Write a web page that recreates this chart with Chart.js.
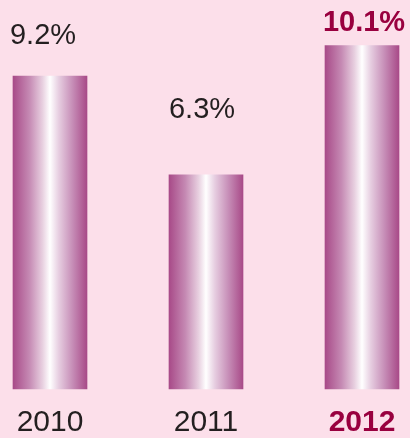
<!DOCTYPE html>
<html lang="en">
<head>
    <meta charset="UTF-8">
    <title>Growth 2010-2012</title>
    <script src="https://cdn.jsdelivr.net/npm/chart.js"></script>
    <style>
        html, body { margin: 0; padding: 0; background: #fcdfea; }
        #wrap { width: 410px; height: 438px; position: relative; }
    </style>
</head>
<body>

<div id="wrap">
    <canvas id="growthChart"></canvas>
</div>

<script>
    const years = ['2010', '2011', '2012'];
    const growth = [9.2, 6.3, 10.1];
    const valueLabels = ['9.2%', '6.3%', '10.1%'];

    const highlightIndex = 2;
    const darkText = '#231f20';
    const accent = '#99003f';
    const fontFamily = '"Liberation Sans", Arial, sans-serif';

    // label nudges relative to bar top (dx, dy to baseline)
    const labelOffsets = [[-7, -32], [-4, -57], [2, -15]];

    // bars are shaded like a cylinder: purple edges, white middle
    const barShade = {
        id: 'barShade',
        beforeDatasetsDraw(chart) {
            const ctx = chart.ctx;
            chart.getDatasetMeta(0).data.forEach(bar => {
                const left = bar.x - bar.width / 2;
                const right = bar.x + bar.width / 2;
                const g = ctx.createLinearGradient(left, 0, right, 0);
                g.addColorStop(0, '#a84a88');
                g.addColorStop(0.22, '#c589b3');
                g.addColorStop(0.4, '#e8d0e0');
                g.addColorStop(0.5, '#ffffff');
                g.addColorStop(0.62, '#e6cde0');
                g.addColorStop(0.8, '#c78fb8');
                g.addColorStop(1, '#a84a88');
                bar.options = Object.assign({}, bar.options, { backgroundColor: g });
            });
        }
    };

    const valueTags = {
        id: 'valueTags',
        afterDatasetsDraw(chart) {
            const ctx = chart.ctx;
            ctx.save();
            ctx.textAlign = 'center';
            ctx.textBaseline = 'alphabetic';
            chart.getDatasetMeta(0).data.forEach((bar, i) => {
                const bold = i === highlightIndex;
                ctx.font = (bold ? 'bold ' : '') + '29px ' + fontFamily;
                ctx.fillStyle = bold ? accent : darkText;
                ctx.fillText(valueLabels[i], bar.x + labelOffsets[i][0], bar.y + labelOffsets[i][1]);
            });
            ctx.restore();
        }
    };

    new Chart(document.getElementById('growthChart'), {
        type: 'bar',
        data: {
            labels: years,
            datasets: [{
                data: growth,
                backgroundColor: '#a84a88',
                borderWidth: 0,
                barThickness: 74,
                clip: false
            }]
        },
        options: {
            responsive: true,
            maintainAspectRatio: false,
            animation: false,
            layout: { padding: { left: 50, right: 48, top: 15, bottom: 0 } },
            plugins: {
                legend: { display: false },
                tooltip: { enabled: false }
            },
            scales: {
                x: {
                    offset: false,
                    grid: { display: false },
                    border: { display: false },
                    afterFit: s => { s.height = 49; },
                    ticks: {
                        padding: 8,
                        maxRotation: 0,
                        autoSkip: false,
                        color: c => c.index === highlightIndex ? accent : darkText,
                        font: c => ({
                            family: fontFamily,
                            size: 30,
                            weight: c.index === highlightIndex ? 'bold' : 'normal'
                        })
                    }
                },
                y: {
                    display: false,
                    min: 0,
                    max: 11
                }
            }
        },
        plugins: [barShade, valueTags]
    });
</script>

</body>
</html>
